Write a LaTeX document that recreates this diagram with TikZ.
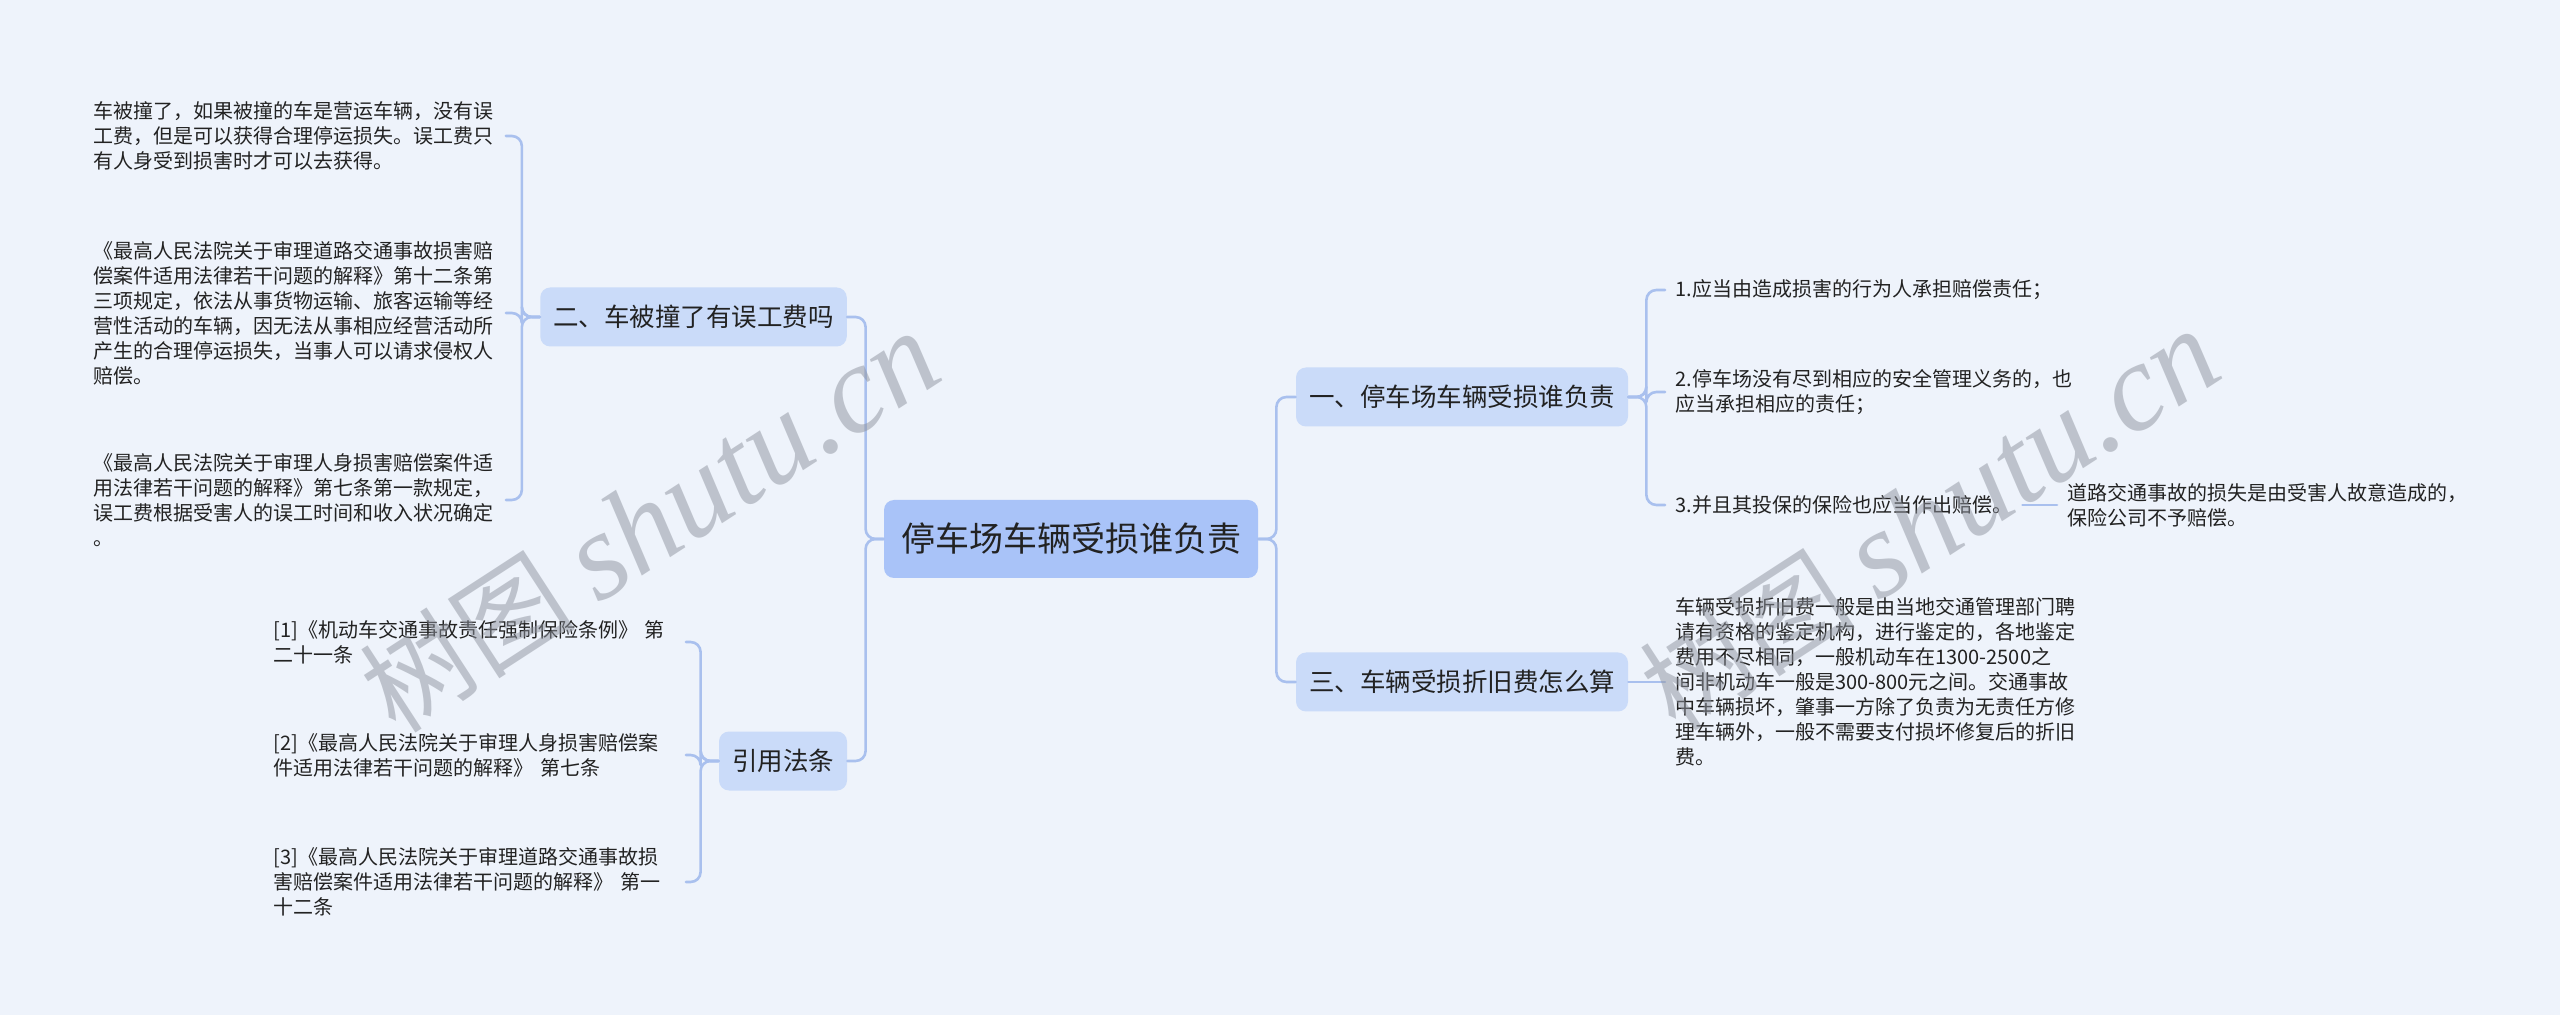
\documentclass[tikz,border=0pt]{standalone}
\usepackage{fontspec}
\newfontfamily\cjk{Noto Sans CJK SC}
\newfontfamily\wmfont{Liberation Serif}
\definecolor{bgcol}{HTML}{EEF3FB}
\definecolor{rootcol}{HTML}{A9C3F8}
\definecolor{topiccol}{HTML}{CADBF9}
\definecolor{linecol}{HTML}{A9C0EE}
\definecolor{inkcol}{HTML}{222222}
\definecolor{wmcol}{HTML}{8E939E}
\begin{document}
\begin{tikzpicture}[x=0.5pt, y=-0.5pt, line cap=round, line join=round,
  rootbox/.style={fill=rootcol, rounded corners=5pt, inner xsep=8.5pt, minimum height=39pt, text=inkcol, font=\cjk\fontsize{17}{20}\selectfont},
  topic/.style={fill=topiccol, rounded corners=5pt, inner xsep=6.5pt, minimum height=29.5pt, text=inkcol, font=\cjk\fontsize{12.75}{15}\selectfont},
  leaf/.style={anchor=west, align=left, inner xsep=5pt, inner ysep=2pt, text=inkcol, font=\cjk\fontsize{10}{12.5}\selectfont},
  wideleaf/.style={leaf, text width=201pt},
  link/.style={draw=linecol, line width=1.3pt, rounded corners=5pt},
  wmark/.style={text=wmcol, text opacity=0.5, rotate=33}]
\fill[bgcol] (0,0) rectangle (2560,1015);
\useasboundingbox (0,0) rectangle (2560,1015);
% centre and topics
\node[rootbox] (root) at (1071,539) {停车场车辆受损谁负责};
\node[topic] (n2) at (693.5,317) {二、车被撞了有误工费吗};
\node[topic] (nl) at (783,761) {引用法条};
\node[topic] (n1) at (1462,397) {一、停车场车辆受损谁负责};
\node[topic] (n3) at (1462,682) {三、车辆受损折旧费怎么算};
% left leaves
\node[wideleaf] (l1) at (83,136) {车被撞了，如果被撞的车是营运车辆，没有误\\工费，但是可以获得合理停运损失。误工费只\\有人身受到损害时才可以去获得。};
\node[wideleaf] (l2) at (83,313) {《最高人民法院关于审理道路交通事故损害赔\\偿案件适用法律若干问题的解释》第十二条第\\三项规定，依法从事货物运输、旅客运输等经\\营性活动的车辆，因无法从事相应经营活动所\\产生的合理停运损失，当事人可以请求侵权人\\赔偿。};
\node[wideleaf] (l3) at (83,500) {《最高人民法院关于审理人身损害赔偿案件适\\用法律若干问题的解释》第七条第一款规定，\\误工费根据受害人的误工时间和收入状况确定\\。};
\node[wideleaf] (r1) at (263,642) {[1]《机动车交通事故责任强制保险条例》 第\\二十一条};
\node[wideleaf] (r2) at (263,755) {[2]《最高人民法院关于审理人身损害赔偿案\\件适用法律若干问题的解释》 第七条};
\node[wideleaf] (r3) at (263,882) {[3]《最高人民法院关于审理道路交通事故损\\害赔偿案件适用法律若干问题的解释》 第一\\十二条};
% right leaves
\node[leaf] (a1) at (1665,290) {1.应当由造成损害的行为人承担赔偿责任；};
\node[leaf] (a2) at (1665,392) {2.停车场没有尽到相应的安全管理义务的，也\\应当承担相应的责任；};
\node[leaf] (a3) at (1665,505) {3.并且其投保的保险也应当作出赔偿。};
\node[leaf] (a4) at (2057,505) {道路交通事故的损失是由受害人故意造成的，\\保险公司不予赔偿。};
\node[leaf] (c1) at (1665,682) {车辆受损折旧费一般是由当地交通管理部门聘\\请有资格的鉴定机构，进行鉴定的，各地鉴定\\费用不尽相同，一般机动车在1300-2500之\\间非机动车一般是300-800元之间。交通事故\\中车辆损坏，肇事一方除了负责为无责任方修\\理车辆外，一般不需要支付损坏修复后的折旧\\费。};
% connectors
\foreach \p/\c in {root/n2, root/nl, n2/l1, n2/l2, n2/l3, nl/r1, nl/r2, nl/r3}
  \draw[link] (\p.west) -- ++(-18,0) |- (\c.east);
\foreach \p/\c in {root/n1, root/n3, n1/a1, n1/a2, n1/a3}
  \draw[link] (\p.east) -- ++(18,0) |- (\c.west);
\draw[link] (n3) -- (c1);
\draw[link] (a3) -- (a4);
% watermark
\node[wmark] (wm1) at (650,522) {\cjk\fontsize{54}{54}\selectfont 树图 \wmfont\itshape\fontsize{62}{62}\selectfont shutu.cn};
\node[wmark] (wm2) at (1930,520) {\cjk\fontsize{54}{54}\selectfont 树图 \wmfont\itshape\fontsize{62}{62}\selectfont shutu.cn};
\end{tikzpicture}
\end{document}
